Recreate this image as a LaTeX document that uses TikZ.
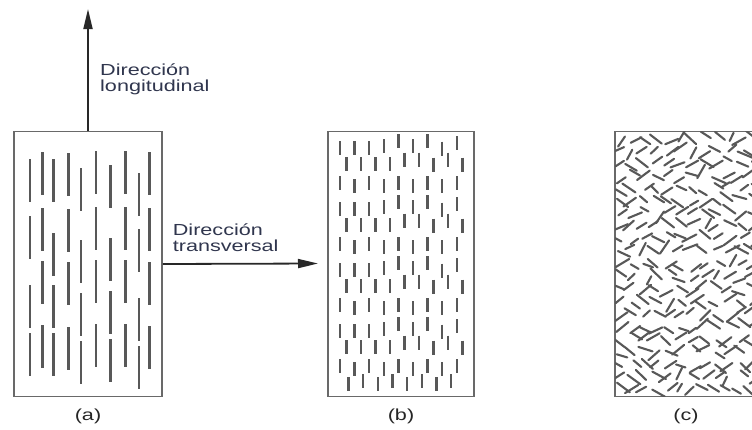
\documentclass[tikz,border=0pt]{standalone}
\usepackage{fontspec}
\setmainfont{Liberation Sans}
\usepackage{graphicx}
\usepackage{tikz}
\usetikzlibrary{arrows.meta}

\definecolor{framegray}{RGB}{105,105,105}
\definecolor{fibregray}{RGB}{88,88,88}
\definecolor{arrowgray}{RGB}{40,40,40}
\definecolor{noteblue}{RGB}{48,54,78}

% the printed text is a little wider than it is tall
\newcommand\wide[1]{\scalebox{1.35}[1]{#1}}

\begin{document}
\begin{tikzpicture}[x=1pt, y=-1pt,
    panel/.style={draw=framegray, line width=1.8pt, minimum width=#1, minimum height=265pt, inner sep=0pt},
    longfibre/.style={draw=fibregray, line width=2.6pt},
    shortfibre/.style={draw=fibregray, line width=2.4pt},
    randfibre/.style={draw=fibregray, line width=2.1pt, line cap=round},
    axis/.style={draw=arrowgray, line width=1.8pt, -{Triangle[length=20pt, width=9pt]}},
    note/.style={text=noteblue, font=\fontsize{16}{16.5}\selectfont, inner sep=0pt},
    tag/.style={text=black!85, font=\fontsize{16}{16.5}\selectfont, inner sep=0pt}]

\path[fill=white, use as bounding box] (0,0) rectangle (752,429);

% the three samples
\node[panel=148pt] (a) at (88,264) {};
\node[panel=146pt] (b) at (401,264) {};
\node[panel=142pt] (c) at (686,264) {};

% (a) long fibres, all along one direction
\foreach \x/\ys in {30/{159,216,285,333}, 42.7/{152,208,261,325}, 53.3/{159,233,285,333},
                    68.3/{153,209,262,327}, 81/{168,240,293,341}, 96/{151,207,260,324},
                    110.7/{165,238,291,339}, 125.3/{151,207,260,324}, 139/{173,229,298,346},
                    149.3/{152,208,262,326}}
  \foreach \y in \ys
    \draw[longfibre] (\x,\y) -- ++(0,43);

% (b) short fibres, same direction
\foreach \p in {0,...,3}
  \foreach \k/\da/\db/\dc in {0/0/16/35, 1/0/16/38, 2/0/16/35, 3/-1.7/16/38, 4/-6.7/11.7/35,
                              5/-1.7/11.7/38, 6/-6.7/16.7/35, 7/0.7/11.7/38, 8/-5/16.7/35}
  {
    \draw[shortfibre] (340+14.6*\k, 141+61*\p+\da) -- ++(0,14);
    \draw[shortfibre] (346.5+14.5*\k, 141+61*\p+\db) -- ++(0,14);
    \draw[shortfibre] (340+14.6*\k, 141+61*\p+\dc) -- ++(0,14);
  }
\foreach \k in {0,...,7}
  \draw[shortfibre] (348.3+14.7*\k, {377-3*mod(\k,2)}) -- ++(0,14);

% (c) short fibres, random directions
\begin{scope}
  \clip ([shift={(1pt,1pt)}]c.south west) rectangle ([shift={(-1pt,-1pt)}]c.north east);
  \pgfmathsetseed{4213}
  \foreach \i in {0,...,11}
    \foreach \j in {0,...,20}
    {
      \pgfmathsetmacro\cx{621+12*\i+4.5*rand}
      \pgfmathsetmacro\cy{138+12.6*\j+4.5*rand}
      \pgfmathsetmacro\ang{{-35,-30,-40,-35,35,30,40,-25,20,-60,32,-32}[random(0,11)]+5*rand}
      \pgfmathsetmacro\len{4.5+3.5*rnd}
      \draw[randfibre] (\cx,\cy) ++(\ang:-\len) -- ++(\ang:2*\len);
    }
\end{scope}

% directions
\coordinate (up) at (88,9);
\coordinate (side) at (318,263.5);
\draw[axis] (a.north) -- (up);
\draw[axis] (a.east) -- (side);

\node[note, anchor=base west] (lon) at (100,75)
  {\wide{\begin{tabular}[t]{@{}l@{}}Dirección\\longitudinal\end{tabular}}};
\node[note, anchor=base west] (tra) at (172.7,235)
  {\wide{\begin{tabular}[t]{@{}l@{}}Dirección\\transversal\end{tabular}}};

% captions
\node[tag] (la) at (88,416.5) {\wide{(a)}};
\node[tag] (lb) at (401,416.5) {\wide{(b)}};
\node[tag] (lc) at (686,416.5) {\wide{(c)}};

\end{tikzpicture}
\end{document}
